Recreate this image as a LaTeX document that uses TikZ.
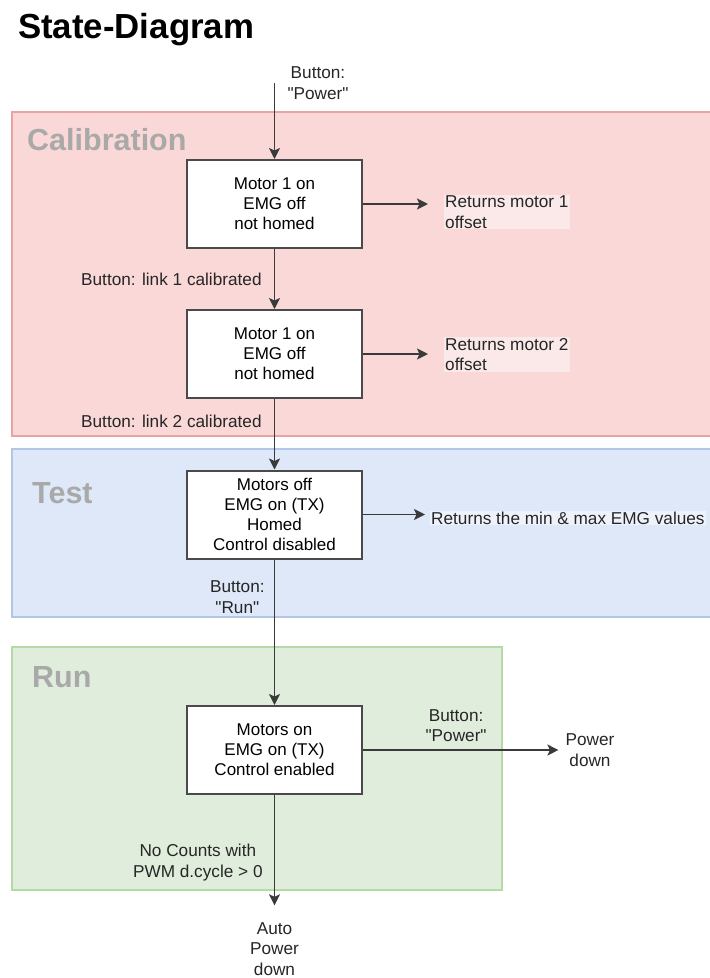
\documentclass[tikz,border=0pt]{standalone}
\usepackage{fontspec}
\setmainfont{Liberation Sans}
\newfontfamily\plainsans{Liberation Sans}
\usepackage{tikz}
\usetikzlibrary{arrows.meta, positioning, calc}
\definecolor{calfill}{HTML}{F9D8D7}
\definecolor{calline}{HTML}{E8A4A2}
\definecolor{testfill}{HTML}{DFE8F8}
\definecolor{testline}{HTML}{B2C6E6}
\definecolor{runfill}{HTML}{E1EDDC}
\definecolor{runline}{HTML}{B4DAA6}
\definecolor{boxline}{HTML}{4A4A4A}
\definecolor{wire}{HTML}{3A3A3A}
\definecolor{phase}{HTML}{A9A9A9}
\newcommand{\straightq}{{\plainsans"}}

\begin{document}
\begin{tikzpicture}[x=1pt, y=-1pt,
  state/.style={draw=boxline, line width=2pt, fill=white, minimum width=175pt,
                minimum height=88pt, align=center, inner sep=0pt,
                font=\fontsize{17}{20}\selectfont},
  lbl/.style={align=center, inner sep=0pt, text=black!85,
              font=\fontsize{17.2}{20.5}\selectfont},
  ret/.style={lbl, align=left, anchor=west, inner sep=1pt, fill=white,
              fill opacity=0.45, text opacity=1},
  region/.style={line width=1.2pt},
  phasename/.style={anchor=base west, inner sep=0pt, text=phase,
                    font=\bfseries\fontsize{30.5}{36}\selectfont},
  arr/.style={-{Stealth[length=11pt, width=11pt, inset=2.5pt]}, line width=1.8pt, wire},
]
  \useasboundingbox (0,0) rectangle (710,978);

  % phases
  \draw[region, fill=calfill, draw=calline] (12,112) rectangle (713,436);
  \draw[region, fill=testfill, draw=testline] (12,449) rectangle (713,617);
  \draw[region, fill=runfill, draw=runline] (12,647) rectangle (502,890);
  \node[phasename] (calname) at (27,150) {Calibration};
  \node[phasename] (testname) at (32,503) {Test};
  \node[phasename] (runname) at (32,687) {Run};

  \node[anchor=base west, inner sep=0pt, font=\bfseries\fontsize{34.8}{40}\selectfont] (title) at (18,38) {State-Diagram};

  % states
  \node[state] (cal1) at (274.5,204) {Motor 1 on\\EMG off\\not homed};
  \node[state] (cal2) at (274.5,354) {Motor 1 on\\EMG off\\not homed};
  \node[state] (test) at (274.5,514.5) {Motors off\\EMG on (TX)\\Homed\\Control disabled};
  \node[state] (run) at (274.5,750) {Motors on\\EMG on (TX)\\Control enabled};

  % outputs
  \coordinate (pwrin) at (274.5,83);
  \node[lbl] (pwrlbl) at (318,83) {Button:\\\straightq Power\straightq};
  \node[ret] (ret1) at (444,212) {Returns motor 1\\offset};
  \node[ret] (ret2) at (444,354.5) {Returns motor 2\\offset};
  \node[ret] (ret3) at (430,518) {Returns the min \& max EMG values};
  \node[lbl] (pwrdn) at (590,750) {Power\\down};
  \node[lbl] (autopd) at (274.5,949) {Auto\\Power\\down};

  \draw[arr] (pwrin) -- (cal1);
  \draw[arr] (cal1) -- node[lbl, left=12pt] {Button: link 1 calibrated} (cal2);
  \draw[arr] (cal2) -- node[lbl, left=12pt, pos=0.32] {Button: link 2 calibrated} (test);
  \draw[arr] (test) -- node[lbl, left=9pt, pos=0.26] {Button:\\\straightq Run\straightq} (run);
  \draw[arr, shorten >=17pt] (run) -- node[lbl, left=11pt, pos=0.53] {No Counts with\\PWM d.cycle > 0} (autopd);

  \draw[arr, shorten >=16pt] (cal1.east) -- (cal1.east -| ret1.west);
  \draw[arr, shorten >=16pt] (cal2.east) -- (cal2.east -| ret2.west);
  \draw[arr, shorten >=5pt] (test.east) -- (test.east -| ret3.west);
  \draw[arr, shorten >=7pt] (run) -- node[lbl, above=7pt, pos=0.46] {Button:\\\straightq Power\straightq} (pwrdn);
\end{tikzpicture}
\end{document}
